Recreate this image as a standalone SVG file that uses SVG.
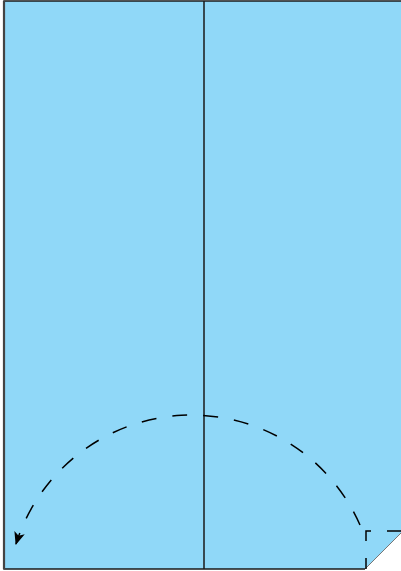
<svg xmlns="http://www.w3.org/2000/svg" width="401" height="571" viewBox="0 0 401 571">
<style>
.edge{stroke:#1a1a1a;stroke-width:1.5;fill:none}
.dash{stroke:#000;stroke-width:1.5;fill:none;stroke-dasharray:15 16}
</style>
<defs>
<marker id="ah" viewBox="0 0 12 10" refX="11" refY="5" markerWidth="13" markerHeight="11" markerUnits="userSpaceOnUse" orient="auto">
<path d="M0,0 L12,5 L0,10 L3,5 Z" fill="#000"/>
</marker>
</defs>
<rect width="401" height="571" fill="#fff"/>
<g id="paper">
<polygon points="4,1 401,1 401,533 365,569 4,569" fill="#90d8f8"/>
<polyline class="edge" points="401,1 4,1 4,569 365,569"/>
<line x1="4" y1="1" x2="4" y2="569" stroke="#444" stroke-width="2.2"/>
<line x1="365" y1="569" x2="401" y2="533" stroke="#777" stroke-width="1"/>
</g>
<g id="creases">
<line class="edge" x1="204" y1="1" x2="204" y2="569"/>
<path stroke="#000" stroke-width="1.5" fill="none" d="M366,569 V558 M366,541 V531 H371 M387,531 H401"/>
</g>
<g id="connectors">
<path class="dash" d="M360,525 A184,184 0 0 0 16,544" marker-end="url(#ah)"/>
</g>
</svg>
